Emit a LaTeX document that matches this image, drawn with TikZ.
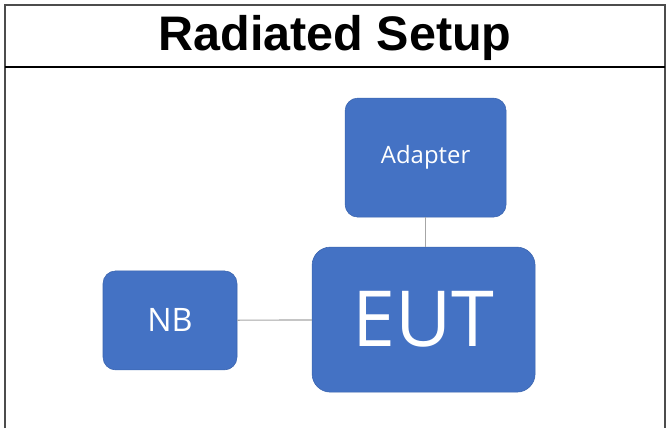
\documentclass[tikz,border=0pt]{standalone}
\usepackage{fontspec}
\usepackage{tikz}
\usetikzlibrary{positioning}
\newfontfamily\titlefont{Liberation Sans}
\newfontfamily\boxfont{Open Sans}
\definecolor{officeblue}{HTML}{4472C4}
\definecolor{officeedge}{HTML}{3A64AE}
\definecolor{linkgray}{HTML}{A6A6A6}

\tikzset{
	unit/.style={draw=officeedge, fill=officeblue, rounded corners=9pt, text=white, align=center, inner sep=0pt, font=\boxfont},
	link/.style={draw=linkgray, line width=0.8pt},
	frame/.style={draw=black!70, line width=1.3pt}
}

\begin{document}
\begin{tikzpicture}
	\useasboundingbox (0,0) rectangle (16.65,-10.7);
	% outer frame and title row
	\draw[frame] (0.125,-10.7) -- (0.125,-0.125) -- (16.625,-0.125) -- (16.625,-10.7);
	\draw[line width=1.8pt] (0.125,-1.675) -- (16.625,-1.675);
	\node (title) at (8.375,-0.95) {\titlefont\fontsize{34.5}{40}\selectfont\bfseries Radiated Setup};
	% blocks
	\node[unit, minimum width=5.575cm, minimum height=3.625cm, rounded corners=13pt, font=\boxfont\fontsize{55}{60}\selectfont] (eut) at (10.59,-7.99) {EUT};
	\node[unit, minimum width=4.025cm, minimum height=2.975cm, font=\boxfont\fontsize{17}{20}\selectfont] (adapter) at (10.64,-3.94) {Adapter};
	\node[unit, minimum width=3.35cm, minimum height=2.475cm, font=\boxfont\fontsize{23}{26}\selectfont] (nb) at (4.25,-8.01) {NB};
	% links
	\draw[link] (adapter.south) -- (adapter.south |- eut.north);
	\draw[link] (nb) -- (eut);
\end{tikzpicture}
\end{document}
